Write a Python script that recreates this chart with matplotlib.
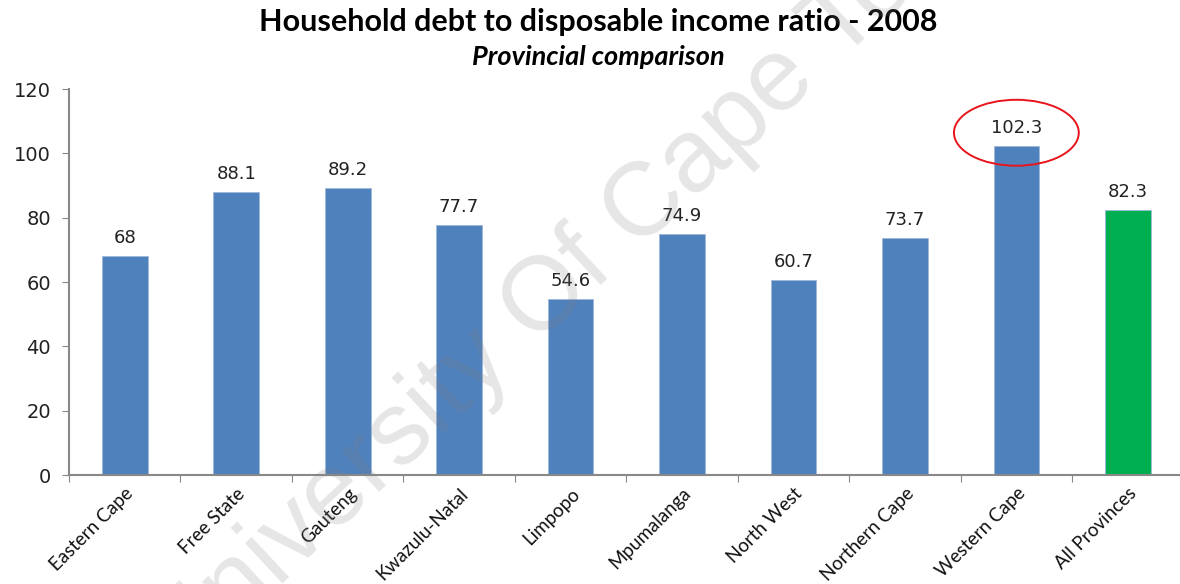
import matplotlib.pyplot as plt
from matplotlib.patches import Ellipse

# provincial household debt to disposable income, 2008
provinces = ['Eastern Cape', 'Free State', 'Gauteng', 'Kwazulu-Natal', 'Limpopo',
             'Mpumalanga', 'North West', 'Northern Cape', 'Western Cape', 'All Provinces']
ratios = [68, 88.1, 89.2, 77.7, 54.6, 74.9, 60.7, 73.7, 102.3, 82.3]
value_labels = ['68', '88.1', '89.2', '77.7', '54.6', '74.9', '60.7', '73.7', '102.3', '82.3']
y_ticks = [0, 20, 40, 60, 80, 100, 120]

blue = '#4f81bd'
green = '#00b050'
colors = [blue] * (len(provinces) - 1) + [green]

fig = plt.figure(figsize=(11.8, 5.84), dpi=100)
ax = fig.add_axes([0.0585, 0.1866, 0.9445, 0.661])

x = list(range(len(provinces)))
bars = ax.bar(x, ratios, width=0.41, color=colors, edgecolor='#9fb8da', linewidth=0.6, zorder=2)

for xi, v, lab in zip(x, ratios, value_labels):
    ax.text(xi, v + 2.8, lab, ha='center', va='bottom', fontsize=13,
            family='DejaVu Sans', color='#222222')

# highlight Western Cape
ax.add_patch(Ellipse((8, 106.4), 1.12, 20.5, fill=False, edgecolor='#e8141b', linewidth=1.4,
                     zorder=3, clip_on=False))

ax.set_xlim(-0.5, len(provinces) - 0.5)
ax.set_ylim(0, 120)
ax.set_yticks(y_ticks)
ax.set_yticklabels([str(t) for t in y_ticks], fontsize=14, family='DejaVu Sans', color='#222222')

# category ticks between bars
ax.set_xticks([i - 0.5 for i in range(len(provinces))])
ax.set_xticklabels([])
ax.set_xticks(x, minor=True)
ax.set_xticklabels(provinces, minor=True, rotation=45, ha='right', rotation_mode='anchor',
                   fontsize=13.5, family='Lato', color='#111111')
ax.tick_params(axis='x', which='minor', length=0, pad=7)
ax.tick_params(axis='x', which='major', length=5, color='#888888', direction='out')
ax.tick_params(axis='y', length=5, color='#888888', direction='out', pad=8)

for side in ['top', 'right']:
    ax.spines[side].set_visible(False)
for side in ['left', 'bottom']:
    ax.spines[side].set_color('#888888')
    ax.spines[side].set_linewidth(1.5)

fig.text(0.507, 0.962, 'Household debt to disposable income ratio - 2008', ha='center', va='center',
         fontsize=22, fontweight='bold', family='Lato')
fig.text(0.507, 0.902, 'Provincial comparison', ha='center', va='center',
         fontsize=19.5, fontweight='bold', fontstyle='italic', family='Lato')

# watermark
fig.text(0.492, 0.54, 'University Of Cape Town', ha='center', va='center', rotation=43,
         fontsize=75, family='Liberation Sans', color='#808080', alpha=0.2, zorder=10)

fig.savefig('out.png', dpi=100)
